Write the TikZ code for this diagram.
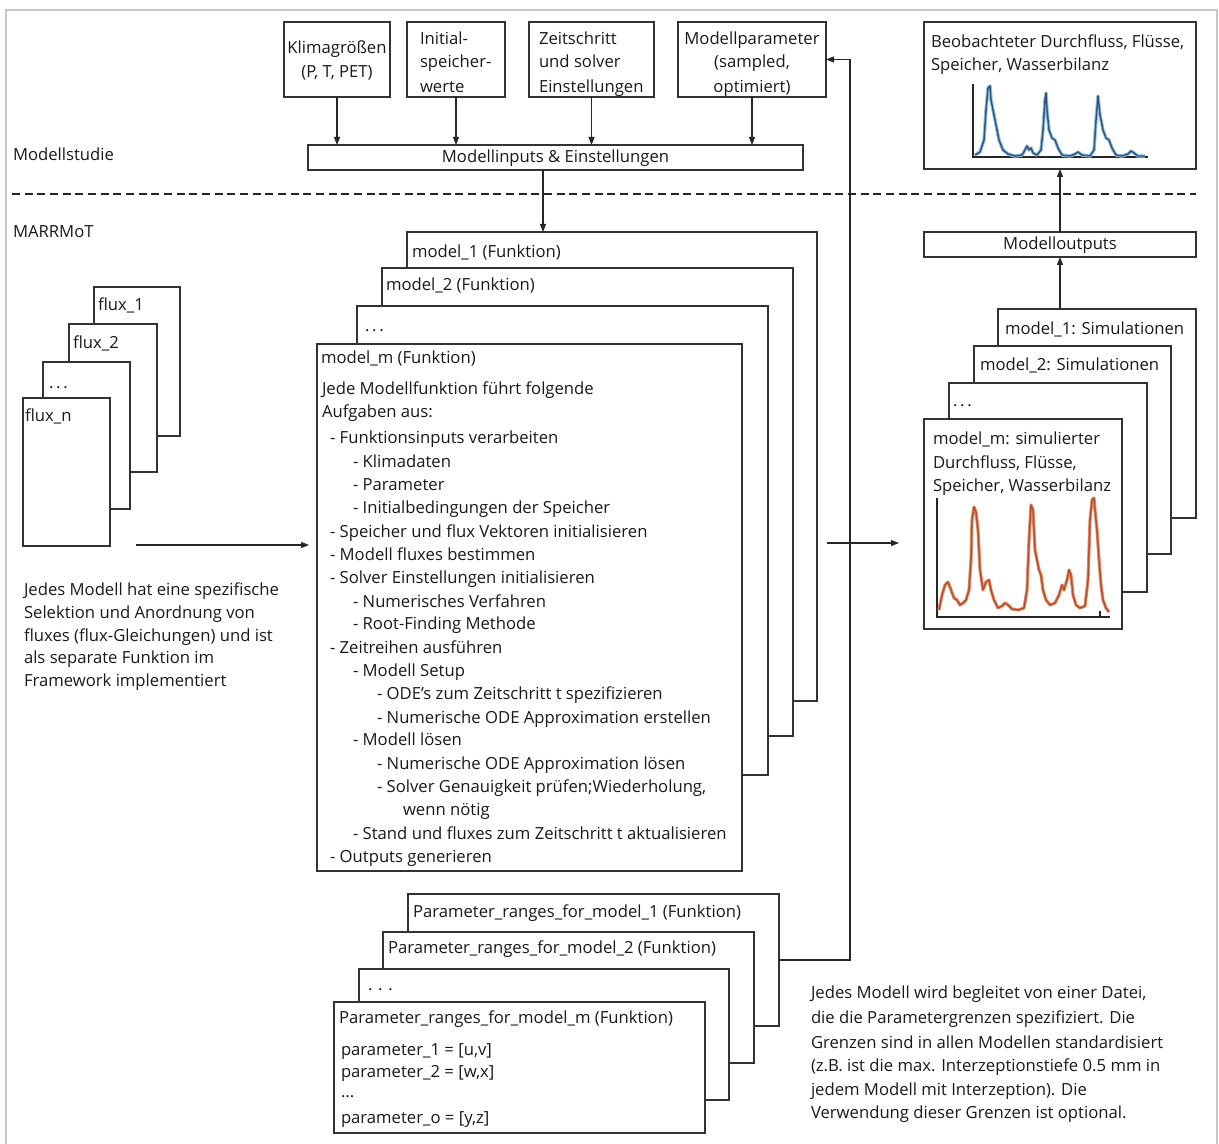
\documentclass[tikz,border=0pt]{standalone}
\usepackage{fontspec}
\setmainfont{Open Sans}
\usetikzlibrary{arrows.meta}
\newcommand\fs{\fontsize{12.5pt}{15pt}\selectfont}
\newcommand\bx[5]{\node[box, minimum width={(#4-#2)*0.75pt}, minimum height={(#5-#3)*0.75pt}] (#1) at ({(#2+#4)/2},{(#3+#5)/2}) {};}
\definecolor{obsblue}{RGB}{31,119,180}
\definecolor{obsdark}{RGB}{45,85,130}
\definecolor{simor}{RGB}{214,96,44}
\definecolor{simdark}{RGB}{185,80,45}
\begin{document}
\begin{tikzpicture}[x=0.75pt,y=-0.75pt,
  box/.style={draw=black!80, line width=0.9pt, fill=white, inner sep=0pt, outer sep=0pt},
  txt/.style={inner sep=0pt, outer sep=0pt, anchor=west, text height=8.25pt, text depth=0pt, font=\fs, text=black!90},
  ctxt/.style={txt, anchor=center},
  arr/.style={draw=black!85, line width=0.8pt, -{Triangle[length=6pt,width=4.5pt]}},
  axisline/.style={draw=black!85, line width=0.8pt},
  ]
\useasboundingbox (0,0) rectangle (1219,1144);
% outer frame
\draw[black!22, line width=1pt] (6,1144) -- (6,10) -- (1217,10) -- (1217,1144);

% ---------- top input boxes ----------
\bx{klima}{284}{22}{390}{97}
\bx{init}{407}{22}{505}{97}
\bx{zeit}{529}{22}{654}{97}
\bx{param}{678}{22}{826}{97}
\node[ctxt] (klima1) at (337,48) {Klimagrößen};
\node[ctxt] (klima2) at (337,72) {(P, T, PET)};
\node[txt] (init1) at (420,39) {Initial-};
\node[txt] (init2) at (420,62) {speicher-};
\node[txt] (init3) at (420,87) {werte};
\node[txt] (zeit1) at (539,39) {Zeitschritt};
\node[txt] (zeit2) at (539,62) {und solver};
\node[txt] (zeit3) at (539,87) {Einstellungen};
\node[ctxt] (param1) at (752,39) {Modellparameter};
\node[ctxt] (param2) at (752,62) {(sampled,};
\node[ctxt] (param3) at (752,87) {optimiert)};

\bx{inputs}{308}{145}{803}{170}
\node[ctxt] (inputst) at (inputs) {Modellinputs \& Einstellungen};

\draw[arr] (klima.south) -- (klima.south |- inputs.north);
\draw[arr] (init.south) -- (init.south |- inputs.north);
\draw[arr] (zeit.south) -- (zeit.south |- inputs.north);
\draw[arr] (param.south) -- (param.south |- inputs.north);

\node[txt] (studie) at (13,155) {Modellstudie};
\node[txt] (marrmot) at (13,232) {MARRMoT};

\draw[black!85, line width=0.8pt, dash pattern=on 6pt off 3.5pt] (12,194) -- (1196,194);

% ---------- observed box ----------
\bx{obs}{924}{22}{1196}{169}
\node[txt] (obs1) at (931,42) {Beobachteter Durchfluss, Flüsse,};
\node[txt] (obs2) at (931,65) {Speicher, Wasserbilanz};
\draw[axisline] (973,84) -- (973,157) -- (1148,157);
\def\obscurve{(975,155) (980,152) (984,140) (986,110) (988,88) (990,86) (991,100) (993,110) (996,125) (999,140) (1003,150) (1008,154) (1015,156) (1022,155) (1025,150) (1027,146) (1029,150) (1031,148) (1033,153) (1037,155) (1041,150) (1043,130) (1045,100) (1046,93) (1047,110) (1049,130) (1052,138) (1055,140) (1058,148) (1062,155) (1070,156) (1075,154) (1078,152) (1082,155) (1090,156) (1094,150) (1096,120) (1098,96) (1100,115) (1103,130) (1106,138) (1109,140) (1112,148) (1116,155) (1122,156) (1128,154) (1131,151) (1134,153) (1138,156) (1145,156)}
\draw[obsblue!45, line width=2.6pt, line join=round] plot coordinates {\obscurve};
\draw[obsdark, line width=1.1pt, line join=round] plot coordinates {\obscurve};

\bx{outputs}{924}{232}{1196}{257}
\node[ctxt] (outputst) at (outputs) {Modelloutputs};
\draw[arr] (outputs.north) -- (obs.south);

% ---------- flux stack ----------
\bx{flux1}{94}{287}{180}{436}
\node[txt] (flux1t) at (98,305) {flux\_1};
\bx{flux2}{69}{324}{157}{472}
\node[txt] (flux2t) at (73,343) {flux\_2};
\bx{fluxd}{43}{362}{130}{509}
\node[txt] (fluxdt) at (49,383) {.\,.\,.};
\bx{fluxn}{23}{398}{110}{546}
\node[txt] (fluxnt) at (25,416) {flux\_n};

\node[txt] (lt1) at (24,590) {Jedes Modell hat eine spezifische};
\node[txt] (lt2) at (24,613) {Selektion und Anordnung von};
\node[txt] (lt3) at (24,636) {fluxes (flux-Gleichungen) und ist};
\node[txt] (lt4) at (24,658) {als separate Funktion im};
\node[txt] (lt5) at (24,681) {Framework implementiert};

% ---------- model stack ----------
\bx{model1}{407}{232}{817}{701}
\node[txt] (model1t) at (412,252) {model\_1 (Funktion)};
\bx{model2}{382}{268}{793}{736}
\node[txt] (model2t) at (386,285) {model\_2 (Funktion)};
\bx{modeld}{357}{306}{768}{775}
\node[txt] (modeldt) at (365,326) {.\,.\,.};
\bx{modelm}{317}{344}{742}{871}
\node[txt] (modelmt) at (321,358) {model\_m (Funktion)};

\foreach \xx/\yy/\tt [count=\i] in {
322/389/{Jede Modellfunktion führt folgende},
322/412/{Aufgaben aus:},
330/438/{- Funktionsinputs verarbeiten},
353/462/{- Klimadaten},
353/485/{- Parameter},
353/508/{- Initialbedingungen der Speicher},
330/532/{- Speicher und flux Vektoren initialisieren},
330/555/{- Modell fluxes bestimmen},
330/578/{- Solver Einstellungen initialisieren},
353/602/{- Numerisches Verfahren},
353/624/{- Root-Finding Methode},
330/648/{- Zeitreihen ausführen},
353/671/{- Modell Setup},
377/694/{- ODE{\char"0027}s zum Zeitschritt t spezifizieren},
377/718/{- Numerische ODE Approximation erstellen},
353/740/{- Modell lösen},
377/764/{- Numerische ODE Approximation lösen},
377/787/{- Solver Genauigkeit prüfen;Wiederholung,},
403/810/{wenn nötig},
353/834/{- Stand und fluxes zum Zeitschritt t aktualisieren},
330/857/{- Outputs generieren}}
  \node[txt] (ml\i) at (\xx,\yy) {\tt};

\draw[arr] (inputs.south -| 543,0) -- (543,0 |- model1.north);

% arrows into / out of model stack
\coordinate (fa) at (136,545);
\coordinate (fb) at (309,545);
\draw[arr] (fa) -- (fb);
\coordinate (ma) at (827,543);
\coordinate (mb) at (899,543);
\draw[arr] (ma) -- (mb);

% ---------- simulation stack ----------
\bx{sim1}{998}{309}{1196}{518}
\node[txt] (sim1t) at (1005,329) {model\_1: Simulationen};
\bx{sim2}{974}{346}{1171}{554}
\node[txt] (sim2t) at (980,365) {model\_2: Simulationen};
\bx{simd}{949}{383}{1147}{592}
\node[txt] (simdt) at (953,401) {.\,.\,.};
\bx{simm}{924}{419}{1122}{629}
\node[txt] (simm1) at (933,439) {model\_m: simulierter};
\node[txt] (simm2) at (933,463) {Durchfluss, Flüsse,};
\node[txt] (simm3) at (933,486) {Speicher, Wasserbilanz};
\draw[axisline] (937,498) -- (937,617) -- (1110,617);
\draw[axisline] (1100,611) -- (1100,617);
\def\simcurve{(939,610) (942,595) (945,585) (948,582) (951,590) (954,598) (957,600) (960,605) (963,603) (966,600) (969,590) (971,560) (972,520) (974,507) (976,512) (978,530) (980,570) (983,590) (986,582) (989,580) (991,590) (994,600) (998,608) (1002,606) (1005,603) (1008,605) (1012,609) (1018,610) (1024,608) (1027,590) (1029,540) (1031,505) (1033,510) (1035,550) (1037,560) (1039,570) (1041,575) (1043,590) (1046,600) (1050,605) (1055,603) (1059,595) (1062,585) (1064,590) (1067,580) (1069,570) (1071,575) (1073,595) (1076,605) (1080,608) (1085,606) (1088,580) (1090,520) (1092,500) (1094,498) (1095,510) (1097,530) (1099,560) (1101,585) (1103,600) (1106,608) (1109,612)}
\draw[simor!70, line width=2.4pt, line join=round] plot coordinates {\simcurve};
\draw[simdark, line width=1.1pt, line join=round] plot coordinates {\simcurve};

\draw[arr] (outputs.south |- sim1.north) -- (outputs.south);

% ---------- parameter stack ----------
\bx{p1}{408}{894}{779}{1026}
\node[txt] (p1t) at (413,912) {Parameter\_ranges\_for\_model\_1 (Funktion)};
\bx{p2}{383}{932}{754}{1063}
\node[txt] (p2t) at (388,948) {Parameter\_ranges\_for\_model\_2 (Funktion)};
\bx{pd}{359}{969}{729}{1100}
\node[txt] (pdt) at (368,985) {. . .};
\bx{pm}{334}{1002}{705}{1133}
\node[txt] (pmt) at (339,1018) {Parameter\_ranges\_for\_model\_m (Funktion)};
\node[txt] (pm1) at (341,1050) {parameter\_1 = [u,v]};
\node[txt] (pm2) at (341,1072) {parameter\_2 = [w,x]};
\node[txt] (pm3) at (341,1092) {...};
\node[txt] (pm4) at (341,1118) {parameter\_o = [y,z]};

\coordinate (vx) at (850,0);
\draw[arr] (p1.east) -| (vx |- param.east) -- (param.east);

\node[txt] (rt1) at (811,993) {Jedes Modell wird begleitet von einer Datei,};
\node[txt] (rt2) at (811,1018) {die die Parametergrenzen spezifiziert. Die};
\node[txt] (rt3) at (811,1043) {Grenzen sind in allen Modellen standardisiert};
\node[txt] (rt4) at (811,1066) {(z.B. ist die max. Interzeptionstiefe 0.5 mm in};
\node[txt] (rt5) at (811,1090) {jedem Modell mit Interzeption). Die};
\node[txt] (rt6) at (811,1113) {Verwendung dieser Grenzen ist optional.};
\end{tikzpicture}
\end{document}
